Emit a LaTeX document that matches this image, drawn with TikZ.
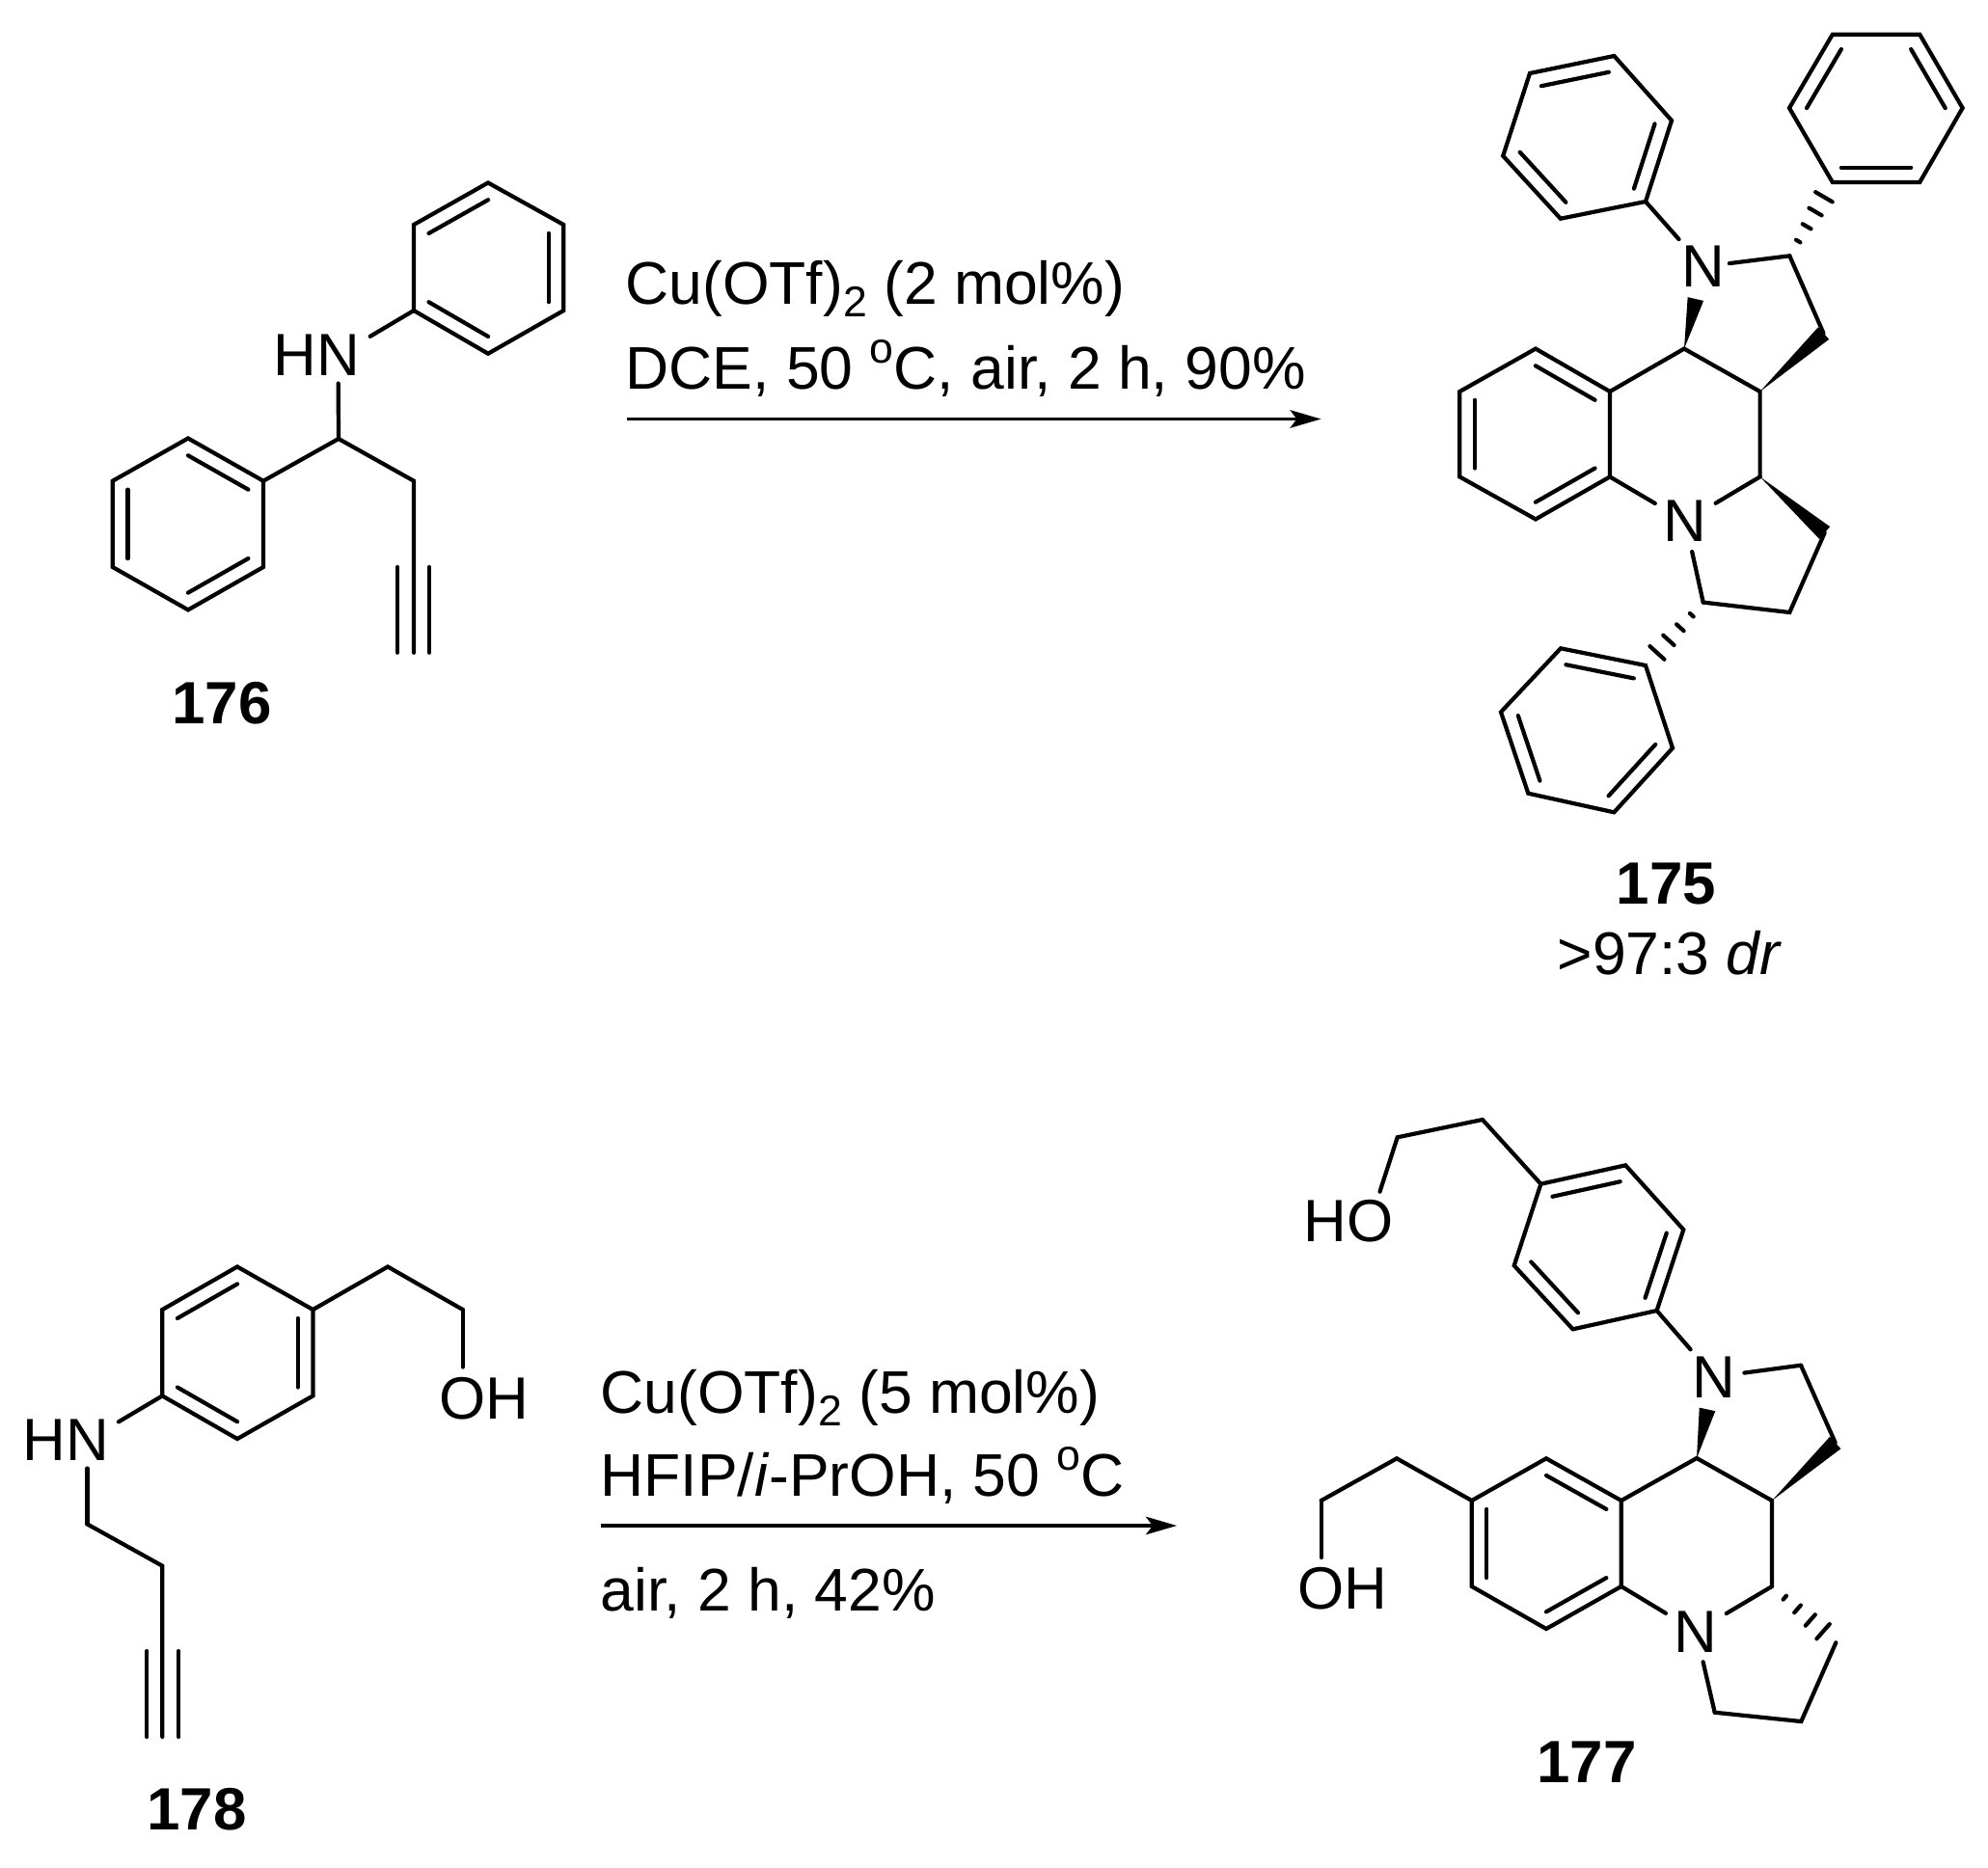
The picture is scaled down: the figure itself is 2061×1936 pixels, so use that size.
\documentclass[tikz,border=0pt]{standalone}
\usepackage{fontspec}
\setmainfont{Liberation Sans}
\usetikzlibrary{positioning, calc}
\usetikzlibrary{arrows.meta}
\newcommand{\subtwo}{\raisebox{-3.7pt}{\fontsize{12.7}{14}\selectfont 2}}
\newcommand{\supo}{\raisebox{7.6pt}{\fontsize{12.7}{14}\selectfont o}}

\begin{document}
\begin{tikzpicture}[x=0.01cm,y=-0.01cm]
        \tikzset{bond/.style = {line width=1.2pt, line join=miter, line cap=round}}
        \tikzset{innerbond/.style = {line width=1.2pt, line cap=round}}
        \tikzset{atom/.style = {inner sep=0pt, outer sep=0pt, font=\fontsize{17.6}{21}\selectfont}}
        \tikzset{cmpd/.style = {inner sep=0pt, anchor=base, font=\fontsize{17.6}{21}\selectfont\bfseries}}
        \tikzset{reagent/.style = {inner sep=0pt, anchor=base west, font=\fontsize{17.75}{21}\selectfont}}
        \tikzset{rxnarrow/.style = {line width=0.9pt, -{Stealth[length=3.2mm,width=1.85mm,inset=0.7mm]}}}
        \useasboundingbox (0,0) rectangle (2061,1936);

        % 176
        \foreach \n/\x/\y in {a1/506/189.5,a2/584.3/233,a3/584.3/322,a4/506/366.7,a5/429/322,a6/429/233,ac/506.5/278,
            b1/195/454.5,b2/273/498.7,b3/273/588,b4/195/632.4,b5/116.8/588,b6/116.8/498.7,bc/195/543.5,
            d1/351/455,d2/429/498.7,d3/429/588,d4/429/676.7}
            \coordinate (\n) at (\x,\y);
        \node[atom] (n1) at (350.5,368.5) {N};
        \node[atom,left=0pt of n1] (h1) {H};
        \draw[bond] (a1) -- (a2) -- (a3) -- (a4) -- (a5) -- (a6) -- cycle;
        \draw[bond] (b1) -- (b2) -- (b3) -- (b4) -- (b5) -- (b6) -- cycle;
        \draw[bond,shorten <=3.6pt] (n1) -- (a5);
        \draw[bond,shorten <=2.2pt] (n1) -- (d1);
        \draw[bond] (b2) -- (d1) -- (d2) -- (d4);
        \draw[innerbond] ($(d3)+(-17,0)$) -- ($(d4)+(-17,0)$);
        \draw[innerbond] ($(d3)+(16,0)$) -- ($(d4)+(16,0)$);
        \node[cmpd] (l176) at (230,750) {176};

        % 175
        \foreach \n/\x/\y in {e1/1673.4/58,e2/1733/125,e3/1706/209,e4/1617.8/226.7,e5/1558.2/161.7,e6/1586/76,ec/1645.6/142,
            f1/1899.8/35.7,f2/1990.2/35.7,f3/2034.6/112,f4/1990.2/189,f5/1899.8/189,f6/1855/112,fc/1945/112.4,
            g1/1592/361.6,g2/1669/406,g3/1669/494.4,g4/1592/538.4,g5/1513.3/494.4,g6/1513.3/406,gc/1591.5/450,
            i1/1706/690,i2/1734/775.7,i3/1673.3/842.3,i4/1584.3/822.7,i5/1556/738.3,i6/1618/672.3,ic/1645/757,
            j1/1746/361.6,j2/1824.6/406,j3/1824.6/494.4,j4/1890.5/345.6,j5/1855.3/265.3,
            j6/1891.6/552.5,j7/1855.3/635,j8/1765.7/624.6}
            \coordinate (\n) at (\x,\y);
        \node[atom] (n2) at (1765.6,276.5) {N};
        \node[atom] (n3) at (1747.2,540.5) {N};
        \draw[bond] (e1) -- (e2) -- (e3) -- (e4) -- (e5) -- (e6) -- cycle;
        \draw[bond] (f1) -- (f2) -- (f3) -- (f4) -- (f5) -- (f6) -- cycle;
        \draw[bond] (g1) -- (g2) -- (g3) -- (g4) -- (g5) -- (g6) -- cycle;
        \draw[bond] (i1) -- (i2) -- (i3) -- (i4) -- (i5) -- (i6) -- cycle;
        \draw[bond] (g2) -- (j1) -- (j2) -- (j3);
        \draw[bond,shorten <=2.7pt] (n2) -- (e3);
        \draw[bond,shorten <=1.4pt] (n2) -- (j5);
        \draw[bond] (j5) -- (j4);
        \draw[bond,shorten <=3pt] (n3) -- (g3);
        \draw[bond,shorten <=3pt] (n3) -- (j3);
        \draw[bond,shorten <=3pt] (n3) -- (j8);
        \draw[bond] (j8) -- (j7) -- (j6);
        \node[cmpd] (l175) at (1727.3,937) {175};
        \node[reagent,anchor=base] (dr) at (1731,1010) {>97:3 \textit{dr}};

        % 178
        \foreach \n/\x/\y in {k1/246/1313.5,k2/324.4/1358,k3/324.4/1447.4,k4/246/1492,k5/168.3/1447.4,k6/168.3/1358,kc/246.3/1403,
            m1/402/1313.5,m2/479.8/1358,m3/90.6/1580.5,m4/168.3/1623.7,m5/168.3/1712,m6/168.3/1801}
            \coordinate (\n) at (\x,\y);
        \node[atom] (n4) at (90.6,1493.5) {N};
        \node[atom,left=0pt of n4] (h4) {H};
        \node[atom] (o1) at (479.8,1450) {O};
        \node[atom,right=0pt of o1] (h5) {H};
        \draw[bond] (k1) -- (k2) -- (k3) -- (k4) -- (k5) -- (k6) -- cycle;
        \draw[bond] (k2) -- (m1) -- (m2);
        \draw[bond,shorten >=3pt] (m2) -- (o1);
        \draw[bond,shorten <=3.3pt] (n4) -- (k5);
        \draw[bond,shorten <=2.2pt] (n4) -- (m3);
        \draw[bond] (m3) -- (m4) -- (m6);
        \draw[innerbond] ($(m5)+(-16,0)$) -- ($(m6)+(-16,0)$);
        \draw[innerbond] ($(m5)+(17,0)$) -- ($(m6)+(17,0)$);
        \node[cmpd] (l178) at (204,1897) {178};

        % 177
        \foreach \n/\x/\y in {p1/1597.4/1227.7,p2/1685.2/1208.3,p3/1745.3/1275,p4/1717.6/1359,p5/1630.6/1378.3,p6/1569.7/1312.3,pc/1657.5/1293,
            r1/1536.9/1161,r2/1448.7/1179.3,
            s1/1603/1512.3,s2/1680.8/1556,s3/1680.8/1645,s4/1603/1689,s5/1525.8/1645,s6/1525.8/1556,sc/1603.3/1600.5,
            t1/1448/1512.3,t2/1369.7/1556,
            u1/1759/1512,u2/1837/1556,u3/1837/1645,u4/1902.7/1496,u5/1867/1415.7,
            u6/1903.3/1703.3,u7/1867.3/1785,u8/1777.7/1775.7}
            \coordinate (\n) at (\x,\y);
        \node[atom] (n5) at (1777.3,1427.7) {N};
        \node[atom] (n6) at (1758.3,1691.7) {N};
        \node[atom] (o2) at (1420.7,1266) {O};
        \node[atom,left=0pt of o2] (h6) {H};
        \node[atom] (o3) at (1369.7,1647.5) {O};
        \node[atom,right=0pt of o3] (h7) {H};
        \draw[bond] (p1) -- (p2) -- (p3) -- (p4) -- (p5) -- (p6) -- cycle;
        \draw[bond] (s1) -- (s2) -- (s3) -- (s4) -- (s5) -- (s6) -- cycle;
        \draw[bond] (p1) -- (r1) -- (r2);
        \draw[bond,shorten >=2.5pt] (r2) -- (o2);
        \draw[bond] (s6) -- (t1) -- (t2);
        \draw[bond,shorten >=3pt] (t2) -- (o3);
        \draw[bond] (s2) -- (u1) -- (u2) -- (u3);
        \draw[bond,shorten <=2.7pt] (n5) -- (p4);
        \draw[bond,shorten <=2.5pt] (n5) -- (u5);
        \draw[bond] (u5) -- (u4);
        \draw[bond,shorten <=3pt] (n6) -- (s3);
        \draw[bond,shorten <=3pt] (n6) -- (u3);
        \draw[bond,shorten <=3pt] (n6) -- (u8);
        \draw[bond] (u8) -- (u7) -- (u6);
        \node[cmpd] (l177) at (1645,1848) {177};

        % inner lines of the rings
        \foreach \p/\q/\r in {a1/a6/ac,a2/a3/ac,a4/a5/ac,b1/b2/bc,b3/b4/bc,b5/b6/bc,
            e6/e1/ec,e2/e3/ec,e4/e5/ec,f1/f6/fc,f2/f3/fc,f4/f5/fc,g1/g2/gc,g3/g4/gc,g5/g6/gc,
            i6/i1/ic,i2/i3/ic,i4/i5/ic,k1/k6/kc,k2/k3/kc,k4/k5/kc,
            p1/p2/pc,p3/p4/pc,p5/p6/pc,s1/s2/sc,s3/s4/sc,s5/s6/sc}
            \draw[innerbond] ($(\p)!0.2!(\r)$) -- ($(\q)!0.2!(\r)$);

        % wedges
        \foreach \p/\q/\f in {j1/n2/0.606,j2/j4/1,j3/j6/1,u1/n5/0.6,u2/u4/1}
            \fill ($(\p)!\f!(\q)$) ++(0,0) coordinate (tipmid)
                (\p) -- ($(tipmid)!2.4pt!90:(\p)$) -- ($(tipmid)!2.4pt!-90:(\p)$) -- cycle;

        % hashes
        \foreach \p/\q in {j5/f5,j8/i1,u3/u6}
            \foreach \t in {0.2,0.4,0.6,0.8}
                \draw[innerbond] ($(\p)!\t!(\q)!\t*3.6pt!90:(\q)$) -- ($(\p)!\t!(\q)!\t*3.6pt!-90:(\q)$);

        % arrows
        \coordinate (ar1) at (649.5,434.5);
        \coordinate (ar2) at (1369.5,434.5);
        \coordinate (ar3) at (623,1582);
        \coordinate (ar4) at (1220,1582);
        \draw[rxnarrow] (ar1) -- (ar2);
        \draw[rxnarrow] (ar3) -- (ar4);
        \node[reagent] (cond1) at (648,315) {Cu(OTf)\subtwo{} (2 mol\%)};
        \node[reagent] (cond2) at (648,403) {DCE, 50 \supo{}C, air, 2 h, 90\%};
        \node[reagent] (cond3) at (622,1465) {Cu(OTf)\subtwo{} (5 mol\%)};
        \node[reagent] (cond4) at (622,1551) {HFIP/\textit{i}-PrOH, 50 \supo{}C};
        \node[reagent] (cond5) at (622,1670) {air, 2 h, 42\%};
    \end{tikzpicture}
\end{document}
